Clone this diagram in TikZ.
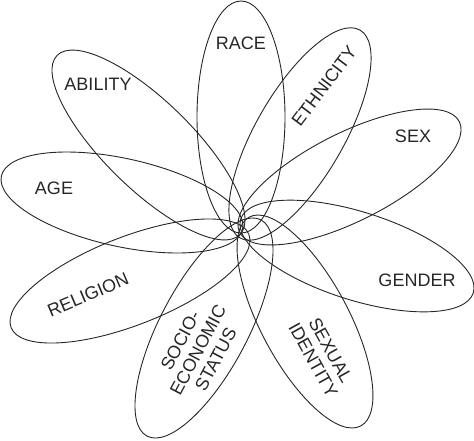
\documentclass[tikz,border=0pt]{standalone}
\usepackage{fontspec}
\setmainfont{Liberation Sans}
\usetikzlibrary{positioning}

\tikzset{
  petal/.style={draw=black!85, line width=0.9pt},
  tag/.style={text=black!85, font=\fontsize{18}{20}\selectfont, inner sep=0pt, align=center}
}

\begin{document}
\begin{tikzpicture}[x=1pt, y=-1pt]
\useasboundingbox (0,0) rectangle (474,440);

% The nine petals: centre x/centre y/angle/half length/half width
\foreach \cx/\cy/\ang/\len/\wid in {
  241/117/90/116/44,
  300/134/60/120/44,
  349.5/177/26.8/123/44,
  357/256/-17.6/122/44,
  305/321.5/-61.9/118.4/44,
  204/328/62.2/122.2/44,
  130/281/21.4/127.7/44,
  122/202.5/-12.4/123.5/44,
  148.5/145/-44.4/128/44} {
  \draw [petal, rotate around={\ang:(\cx,\cy)}] (\cx,\cy) ellipse ({\len} and {\wid});
}

% Labels inside the petals
\foreach \name/\x/\y/\ang/\lab in {
  race/241/43/0/RACE,
  ethnicity/324/86/53/ETHNICITY,
  sex/413/136/0/SEX,
  gender/417/280/0/GENDER,
  sexual/322/355/-61/{SEXUAL\\IDENTITY},
  socio/198/350/62/{SOCIO-\\ECONOMIC\\STATUS},
  religion/88/295/23/RELIGION,
  age/54/188/0/AGE,
  ability/98/84/0/ABILITY} {
  \node [tag, rotate=\ang] (\name) at (\x,\y) {\lab};
}

\end{tikzpicture}
\end{document}
